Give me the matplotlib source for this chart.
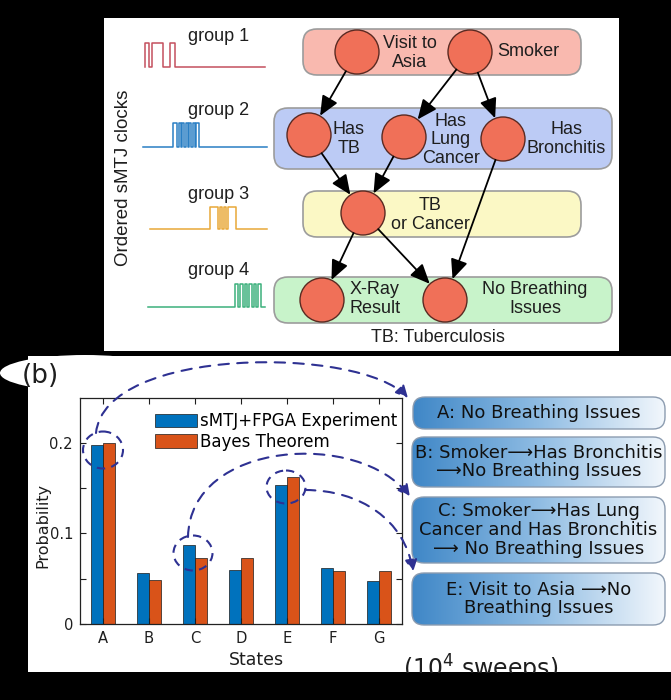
import numpy as np
import matplotlib.pyplot as plt
from matplotlib.patches import FancyBboxPatch, Circle, Ellipse, Rectangle, FancyArrowPatch
from matplotlib.path import Path
from matplotlib.colors import LinearSegmentedColormap

# ---- chart data ----
states = ['A', 'B', 'C', 'D', 'E', 'F', 'G']
experiment = [0.198, 0.056, 0.087, 0.060, 0.153, 0.062, 0.047]
bayes = [0.200, 0.049, 0.073, 0.073, 0.162, 0.059, 0.059]
series_labels = ['sMTJ+FPGA Experiment', 'Bayes Theorem']
yticks = [0, 0.05, 0.1, 0.15, 0.2]
ytick_labels = ['0', '', '0.1', '', '0.2']

# ---- network diagram (panel a) ----
group_labels = ['group 1', 'group 2', 'group 3', 'group 4']
group_colors = ['#c4505e', '#2a7fc4', '#e8a838', '#3cb07c']
# switching instants of each sMTJ clock (pixel x)
clock_edges = [
    [145, 149, 152, 163, 170, 175],
    [173, 177, 179, 180.5, 182, 184, 186, 187.5, 189, 191, 193, 194.5, 196, 199],
    [210, 218, 220, 222, 224, 226, 228, 236],
    [235, 238, 240, 242.5, 245, 247, 249, 251.5, 254, 256, 258, 261],
]
band_colors = ['#f9b9af', '#bccbf5', '#fbf8c5', '#c8f3ca']
node_names = ['Visit to\nAsia', 'Smoker', 'Has\nTB', 'Has\nLung\nCancer',
              'Has\nBronchitis', 'TB\nor Cancer', 'X-Ray\nResult',
              'No Breathing\nIssues']
links = [(0, 2), (1, 3), (1, 4), (2, 5), (3, 5), (5, 6), (5, 7), (4, 7)]

path_texts = ['A: No Breathing Issues',
              'B: Smoker\u27f6Has Bronchitis\n\u27f6No Breathing Issues',
              'C: Smoker\u27f6Has Lung\nCancer and Has Bronchitis\n\u27f6 No Breathing Issues',
              'E: Visit to Asia \u27f6No\nBreathing Issues']

# ---- layout (pixels) ----
clock_span = [(145, 265, 67, 43), (143, 267, 147, 123), (150, 267, 229, 207), (148, 265, 307, 284)]
group_label_pos = [(219, 41), (219, 115), (219, 199), (219, 275)]
band_boxes = [(303, 29, 278, 46), (274, 108, 338, 61), (303, 191, 278, 46), (274, 277, 338, 46)]
node_pos = [(357, 52), (470, 52), (309, 135), (404, 137), (503, 139), (363, 213), (322, 300), (445, 300)]
label_pos = [(410, 53), (528, 52), (349, 139), (451, 140), (566, 139), (430, 215), (375, 299), (535, 299)]
path_boxes = [(413, 397, 252, 32), (412, 437, 253, 50), (412, 497, 253, 66), (412, 573, 253, 52)]

plt.rcParams['font.family'] = ['DejaVu Sans']
top_font = ['Liberation Sans', 'DejaVu Sans']
ink = '#1e1e1e'
dash_col = '#2e3192'

fig = plt.figure(figsize=(6.71, 7.0), dpi=100, facecolor='black')


def pixel_axes(z):
    ax = fig.add_axes([0, 0, 1, 1], zorder=z)
    ax.set_xlim(0, 671)
    ax.set_ylim(700, 0)
    ax.axis('off')
    return ax


bg = pixel_axes(0)
bg.add_patch(Rectangle((104, 18), 515, 333, fc='white', ec='none'))
bg.add_patch(Rectangle((28, 356), 643, 316, fc='white', ec='none'))
bg.add_patch(Ellipse((85, 373), 170, 36, fc='white', ec='none'))

# panel (a)
bg.text(123, 178, 'Ordered sMTJ clocks', rotation=90, ha='center', va='center',
        fontsize=13.5, color=ink, family=top_font)
for lab, (lx, ly), col, edges, (x0, x1, ylo, yhi) in zip(group_labels, group_label_pos,
                                                         group_colors, clock_edges, clock_span):
    bg.text(lx, ly, lab, ha='center', va='baseline', fontsize=13, color=ink, family=top_font)
    xs, ys, lev = [x0], [ylo], ylo
    for e in edges:
        nxt = yhi if lev == ylo else ylo
        xs += [e, e]
        ys += [lev, nxt]
        lev = nxt
    xs.append(x1)
    ys.append(lev)
    bg.plot(xs, ys, color=col, lw=1.1)

for (bx, by, bw, bh), c in zip(band_boxes, band_colors):
    bg.add_patch(FancyBboxPatch((bx, by), bw, bh, boxstyle='round,pad=0,rounding_size=14',
                                fc=c, ec='#9c9c9c', lw=1.2))

for (cx, cy) in node_pos:
    bg.add_patch(Circle((cx, cy), 22, fc='#f07058', ec='#5a2a22', lw=1.0, zorder=3))
for name, (tx, ty) in zip(node_names, label_pos):
    bg.text(tx, ty, name, ha='center', va='center', fontsize=13, color=ink,
            family=top_font, linespacing=1.15, zorder=4)
for a, b in links:
    bg.add_patch(FancyArrowPatch(node_pos[a], node_pos[b], arrowstyle='-|>,head_length=0.8,head_width=0.35',
                                 mutation_scale=15, shrinkA=16, shrinkB=16, color='black',
                                 lw=1.3, zorder=5))
bg.text(438, 338, 'TB: Tuberculosis', ha='center', va='center', fontsize=13, color=ink, family=top_font)

# panel (b) label
bg.text(40, 376, '(b)', ha='center', va='center', fontsize=19, color=ink)

# bar chart
axb = fig.add_axes([80 / 671, 1 - 624 / 700, 322 / 671, 226.5 / 700], zorder=1)
x = np.arange(1, len(states) + 1)
axb.bar(x - 0.14, experiment, 0.26, color='#0072BD', edgecolor='#1a1a1a', lw=0.5, label=series_labels[0])
axb.bar(x + 0.14, bayes, 0.26, color='#D95319', edgecolor='#1a1a1a', lw=0.5, label=series_labels[1])
axb.set_xlim(0.5, 7.5)
axb.set_ylim(0, 0.25)
axb.set_xticks(x)
axb.set_xticklabels(states)
axb.set_yticks(yticks)
axb.set_yticklabels(ytick_labels)
axb.tick_params(direction='in', top=True, right=True, length=4, width=0.8,
                labelsize=10.6, colors=ink, pad=5)
for s in axb.spines.values():
    s.set_linewidth(0.9)
    s.set_color('#222222')
axb.legend(loc='upper right', bbox_to_anchor=(0.985, 0.935), frameon=False, fontsize=12,
           handlelength=2.5, handleheight=0.85, handletextpad=0.2, labelspacing=0.15,
           borderpad=0, borderaxespad=0)
bg.text(43, 525, 'Probability', rotation=90, ha='center', va='center', fontsize=11.5, color=ink)
bg.text(256, 660, 'States', ha='center', va='center', fontsize=12.5, color=ink)

# overlay: path boxes and dashed pointers
ov = pixel_axes(2)
grad = np.linspace(0, 1, 256).reshape(1, -1)
cmap = LinearSegmentedColormap.from_list('pathbox', ['#3f87c7', '#8fbce3', '#f2f7fc'])
for (bx, by, bw, bh), txt in zip(path_boxes, path_texts):
    box = FancyBboxPatch((bx, by), bw, bh, boxstyle='round,pad=0,rounding_size=12',
                         fc='none', ec='#8c9cb0', lw=1.0, zorder=3)
    ov.add_patch(box)
    im = ov.imshow(grad, extent=(bx, bx + bw, by + bh, by), cmap=cmap, aspect='auto', zorder=2)
    im.set_clip_path(box)
    ov.text(bx + bw / 2, by + bh / 2, txt, ha='center', va='center', fontsize=13,
            color='#111111', linespacing=1.05, zorder=4)

for (ex, ey, ew, eh) in [(103, 450, 40, 37), (193, 553, 39, 35), (286, 487, 39, 33)]:
    ov.add_patch(Ellipse((ex, ey), ew, eh, fc='none', ec=dash_col, lw=1.5,
                         ls=(0, (4, 3)), zorder=5))
curves = [
    [(96, 433), (105, 346), (360, 346), (408, 398)],
    [(188, 537), (190, 440), (360, 430), (410, 497)],
    [(305, 490), (360, 490), (405, 520), (413, 572)],
]
for pts in curves:
    p = Path(pts, [Path.MOVETO, Path.CURVE4, Path.CURVE4, Path.CURVE4])
    ov.add_patch(FancyArrowPatch(path=p, arrowstyle='-|>,head_length=0.6,head_width=0.3',
                                 mutation_scale=12, color=dash_col, lw=1.5,
                                 ls=(0, (5, 4)), zorder=6))

ov.text(403, 678, '(10$^4$ sweeps)', ha='left', va='baseline', fontsize=17, color=ink)
ov.add_patch(Rectangle((0, 672.5), 671, 30, fc='black', ec='none', zorder=10))
ov.set_xlim(0, 671)
ov.set_ylim(700, 0)

fig.savefig('out.png', dpi=100, facecolor='black')
